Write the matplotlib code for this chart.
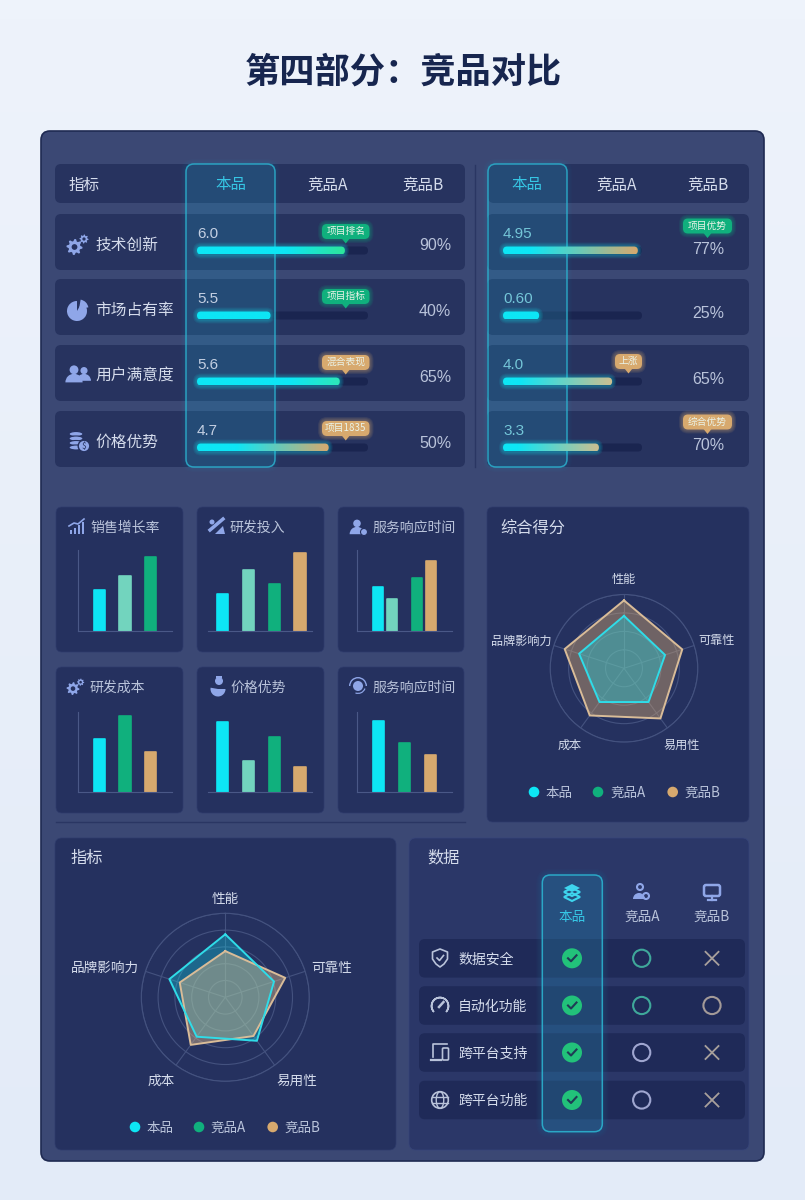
import numpy as np
import matplotlib
matplotlib.use("Agg")
import matplotlib.pyplot as plt
from matplotlib.patches import FancyBboxPatch, Circle, Wedge, Ellipse, Rectangle, Polygon
from matplotlib.colors import to_rgb

plt.rcParams['font.family'] = ['Noto Sans CJK SC', 'DejaVu Sans']

# Data
products = ["本品", "竞品A", "竞品B"]
metric_names = ["技术创新", "市场占有率", "用户满意度", "价格优势"]

left_values = ["6.0", "5.5", "5.6", "4.7"]
left_fill = [0.865, 0.43, 0.835, 0.77]
left_percent = ["90%", "40%", "65%", "50%"]
left_tags = ["项目排名", "项目指标", "混合表现", "项目1835"]

right_values = ["4.95", "0.60", "4.0", "3.3"]
right_fill = [0.97, 0.26, 0.785, 0.69]
right_percent = ["77%", "25%", "65%", "70%"]
right_tags = ["项目优势", "", "上涨", "综合优势"]

mini_titles = ["销售增长率", "研发投入", "服务响应时间", "研发成本", "价格优势", "服务响应时间"]
sales_growth = [51, 68, 91]
rd_input = [46, 75, 58, 96]
service_time_a = [54, 39, 65, 86]
rd_cost = [66, 95, 50]
price_edge = [87, 39, 69, 32]
service_time_b = [89, 61, 47]

radar_axes = ["性能", "可靠性", "易用性", "成本", "品牌影响力"]
score_own = [0.71, 0.585, 0.565, 0.565, 0.64]
score_b = [0.92, 0.83, 0.84, 0.79, 0.845]
metric_own = [0.75, 0.61, 0.64, 0.58, 0.70]
metric_b = [0.55, 0.75, 0.57, 0.70, 0.57]

feature_names = ["数据安全", "自动化功能", "跨平台支持", "跨平台功能"]
status_own = ["yes", "yes", "yes", "yes"]
status_a = ["ring_green", "ring_green", "ring_lilac", "ring_lilac"]
status_b = ["no", "ring_tan", "no", "no"]

# Colours
CYAN = "#0DE6F5"
MINT = "#72D4BE"
GREEN = "#10B07D"
TAN = "#D7A96E"
PANEL = "#3B4874"
CARD = "#25315F"
ROW = "#27335F"
ICON = "#8FA6E8"
TEXT = "#D5DCEC"
SOFT = "#B9C3DA"
NUM_FONT = ["Liberation Sans", "DejaVu Sans"]

W, H = 805, 1200
fig = plt.figure(figsize=(W / 100, H / 100), dpi=100)
ax = fig.add_axes([0, 0, 1, 1])
ax.axis("off")


def box(x0, y0, x1, y1, r=6, fc=CARD, ec="none", lw=0, alpha=None, z=2):
    p = FancyBboxPatch((x0, y0), x1 - x0, y1 - y0, boxstyle=f"round,pad=0,rounding_size={r}",
                       fc=fc, ec=ec, lw=lw, alpha=alpha, zorder=z)
    ax.add_patch(p)
    return p


def glow(x0, y0, x1, y1, r, color, size=6, alpha=0.25, z=2):
    for i in range(size):
        pad = size - i
        box(x0 - pad, y0 - pad, x1 + pad, y1 + pad, r + pad, fc=color, alpha=alpha / size, z=z)


def txt(x, y, s, size=10, color=TEXT, ha="left", z=8, **kw):
    ax.text(x, y + 1, s, fontsize=size, color=color, ha=ha, va="center", zorder=z, **kw)


def px_axes(x0, y0, x1, y1, **kw):
    return fig.add_axes([x0 / W, 1 - y1 / H, (x1 - x0) / W, (y1 - y0) / H], **kw)


def gradient_bar(x0, x1, yc, h, end_color, hold):
    t = np.linspace(0, 1, 256)
    mix = np.clip((t - hold) / (1 - hold), 0, 1)[:, None]
    arr = (np.array(to_rgb(CYAN)) * (1 - mix) + np.array(to_rgb(end_color)) * mix)[None, :, :]
    glow(x0, yc - h / 2, x1, yc + h / 2, h / 2, CYAN, size=4, alpha=0.35, z=5)
    im = ax.imshow(arr, extent=(x0, x1, yc + h / 2, yc - h / 2), aspect="auto", zorder=6)
    clip = FancyBboxPatch((x0, yc - h / 2), x1 - x0, h, boxstyle=f"round,pad=0,rounding_size={h / 2}")
    clip.set_transform(ax.transData)
    im.set_clip_path(clip)


def tag(x0, x1, yc, label, color, size=7):
    glow(x0, yc - 7.5, x1, yc + 7.5, 5, color, size=4, alpha=0.4, z=6)
    box(x0, yc - 7.5, x1, yc + 7.5, 5, fc=color, z=7)
    xm = (x0 + x1) / 2
    ax.add_patch(Polygon([(xm - 4, yc + 7), (xm + 4, yc + 7), (xm, yc + 12)], fc=color, zorder=7))
    txt(xm, yc - 1.5, label, size, "#EAF3E8", ha="center")


# simple icons, drawn around a centre point
def gear(x, y, r, c=ICON, hole=CARD):
    a = np.linspace(0, 2 * np.pi, 32, endpoint=False)
    rad = np.where(np.arange(32) % 4 < 2, r, r * 0.74)
    ax.add_patch(Polygon(np.column_stack((x + rad * np.cos(a), y + rad * np.sin(a))), fc=c, zorder=8))
    ax.add_patch(Circle((x, y), r * 0.36, fc=hole, zorder=9))


def icon_gears(x, y, s=1.0):
    gear(x - 2.5 * s, y + 2 * s, 8 * s)
    gear(x + 7 * s, y - 6 * s, 4.5 * s)


def icon_pie(x, y):
    ax.add_patch(Wedge((x - 1, y + 1), 10, -60, 270, fc=ICON, zorder=8))
    ax.add_patch(Wedge((x + 1, y - 1), 9.5, -80, -10, fc=ICON, zorder=8))


def icon_person(x, y, s=1.0, c=ICON):
    ax.add_patch(Circle((x, y - 4 * s), 4.2 * s, fc=c, zorder=8))
    ax.add_patch(Wedge((x, y + 8 * s), 8.2 * s, 180, 360, fc=c, zorder=8))


def icon_coins(x, y):
    for dy in (-7, -2.5, 2, 6.5):
        ax.add_patch(Ellipse((x - 2, y + dy), 14, 5, fc=ICON, ec=CARD, lw=0.8, zorder=8))
    ax.add_patch(Circle((x + 6, y + 5), 5.8, fc=ICON, ec=CARD, lw=1, zorder=9))
    txt(x + 6, y + 4, "$", 6, CARD, ha="center", z=10)


def icon_growth(x, y):
    for dx, hh in zip((-6, -2, 2, 6), (4, 6, 9, 12)):
        ax.add_patch(Rectangle((x + dx - 1.2, y + 7 - hh), 2.4, hh, fc=ICON, zorder=8))
    ax.plot([x - 8, x - 3, x + 1, x + 7], [y - 1, y - 4, y - 3, y - 8], color=ICON, lw=1.2, zorder=8)


def icon_percent(x, y):
    ax.plot([x - 7, x + 6], [y + 3, y - 8], color=ICON, lw=2.5, zorder=8)
    ax.add_patch(Circle((x - 5, y - 5), 2.5, fc=ICON, zorder=8))
    ax.add_patch(Polygon([(x - 2, y + 7), (x + 6, y - 1), (x + 8, y + 7)], fc=ICON, zorder=8))


def icon_hand_coin(x, y):
    ax.add_patch(Circle((x + 2, y - 5), 4, fc=ICON, zorder=8))
    ax.add_patch(Wedge((x + 1, y + 3), 7.5, 0, 190, fc=ICON, zorder=8))
    ax.add_patch(Rectangle((x - 1, y - 10), 6, 2, fc=ICON, zorder=8))


def icon_headset(x, y):
    ax.add_patch(Circle((x, y), 5, fc=ICON, zorder=8))
    ax.add_patch(Wedge((x, y), 9, 180, 360, width=1.4, fc=ICON, zorder=8))
    ax.add_patch(Wedge((x, y), 8, 20, 110, width=1.2, fc=ICON, zorder=8))


def icon_layers(x, y):
    c = "#3ED5EE"
    for dy in (5, 0):
        ax.add_patch(Polygon([(x - 8, y + dy), (x, y + dy + 4), (x + 8, y + dy), (x, y + dy - 4)],
                             fc="none", ec=c, lw=1.5, zorder=8))
    ax.add_patch(Polygon([(x - 8, y - 4), (x, y), (x + 8, y - 4), (x, y - 8)], fc=c, zorder=9))


def icon_nodes(x, y):
    ax.add_patch(Circle((x - 1, y - 6), 3, fc="none", ec=ICON, lw=1.5, zorder=8))
    ax.add_patch(Wedge((x - 2, y + 6), 6, 180, 360, fc=ICON, zorder=8))
    ax.add_patch(Circle((x + 5, y + 3), 3, fc="none", ec=ICON, lw=1.5, zorder=8))


def icon_monitor(x, y):
    box(x - 8, y - 7, x + 8, y + 4, 2, fc="none", ec=ICON, lw=1.8, z=8)
    ax.plot([x - 4, x + 4], [y + 7.5, y + 7.5], color=ICON, lw=1.6, zorder=8)
    ax.plot([x, x], [y + 4, y + 7.5], color=ICON, lw=1.6, zorder=8)


def icon_shield(x, y):
    pts = [(x, y - 9), (x + 7.5, y - 6), (x + 7.5, y + 1), (x + 4, y + 6), (x, y + 9), (x - 4, y + 6),
           (x - 7.5, y + 1), (x - 7.5, y - 6)]
    ax.add_patch(Polygon(pts, fc="none", ec=SOFT, lw=1.2, joinstyle="round", zorder=8))
    ax.plot([x - 3, x - 0.5, x + 3.5], [y, y + 2.5, y - 2.5], color=SOFT, lw=1.2, zorder=8)


def icon_gauge(x, y):
    ax.add_patch(Wedge((x, y + 1), 8.5, 140, 400, width=0.1, ec=SOFT, fc="none", lw=1.2, zorder=8))
    ax.plot([x - 1, x + 3.5], [y + 2, y - 3], color=SOFT, lw=1.8, zorder=8)


def icon_devices(x, y):
    ax.plot([x - 7, x - 7, x + 7], [y + 5, y - 8, y - 8], color=SOFT, lw=1.2, zorder=8)
    ax.plot([x - 9, x + 1], [y + 7.5, y + 7.5], color=SOFT, lw=1.6, zorder=8)
    box(x + 2.5, y - 4, x + 8.5, y + 8, 1, fc="none", ec=SOFT, lw=1.2, z=8)


def icon_globe(x, y):
    ax.add_patch(Circle((x, y), 8.3, fc="none", ec=SOFT, lw=1.2, zorder=8))
    ax.add_patch(Ellipse((x, y), 7.5, 16.6, fc="none", ec=SOFT, lw=1, zorder=8))
    for dy in (-3.2, 3.2):
        ax.plot([x - 7.6, x + 7.6], [y + dy, y + dy], color=SOFT, lw=1, zorder=8)


# page background and main panel
bg = np.linspace(0, 1, 64)[:, None, None] * (np.array(to_rgb("#E3EBF8")) - np.array(to_rgb("#EEF3FB"))) + np.array(to_rgb("#EEF3FB"))
ax.imshow(bg, extent=(0, W, H, 0), aspect="auto", zorder=0)
box(41, 131, 764, 1161, 9, fc=PANEL, ec="#1F2A52", lw=1.2, z=1)
txt(W / 2 + 0.5, 71, "第四部分：竞品对比", 25.4, "#17264F", ha="center", fontweight="bold")

# top comparison table
row_tops = [214, 279, 345, 411]
row_h = 56
box(55, 164, 465, 203, 6, fc=ROW)
box(488, 164, 749, 203, 6, fc=ROW)
ax.plot([475, 475], [165, 467], color="#2A3663", lw=1, zorder=2)
txt(68, 184, "指标", 11.2)
for xc, name in zip((231, 328, 423), products):
    txt(xc, 184, name, 11.2, "#36C6E4" if name == "本品" else TEXT, ha="center")
for xc, name in zip((527, 617, 708), products):
    txt(xc, 184, name, 11.2, "#36C6E4" if name == "本品" else TEXT, ha="center")

left_end = ["#2EE59A", CYAN, "#2EE8B8", TAN]
left_hold = [0.6, 0.0, 0.65, 0.3]
left_tag_colors = [GREEN, GREEN, TAN, TAN]
right_end = [TAN, CYAN, "#CDBE90", "#CDBE90"]
right_hold = [0.2, 0.0, 0.15, 0.15]
right_tag_colors = [GREEN, GREEN, TAN, TAN]
right_tag_y = [226, 0, 361.5, 422]

for i, top in enumerate(row_tops):
    box(55, top, 465, top + row_h, 6, fc=ROW)
    box(487, top, 749, top + row_h, 6, fc=ROW)
    txt(95, top + 30, metric_names[i], 11.3)

    # left block
    txt(197, top + 19, left_values[i], 11, "#C3CFE2", z=7, family=NUM_FONT)
    box(197, top + 32.5, 368, top + 40.5, 4, fc="#1A2550", z=3)
    gradient_bar(197, 197 + left_fill[i] * 171, top + 36.5, 8, left_end[i], left_hold[i])
    tag(322, 369.5, top + 17.5, left_tags[i], left_tag_colors[i])
    txt(451, top + 31, left_percent[i], 11.5, SOFT, ha="right", family=NUM_FONT)

    # right block
    txt(503, top + 19, right_values[i], 11, "#74C6D8", z=7, family=NUM_FONT)
    box(503, top + 32.5, 642, top + 40.5, 4, fc="#1A2550", z=3)
    gradient_bar(503, 503 + right_fill[i] * 139, top + 36.5, 8, right_end[i], right_hold[i])
    if right_tags[i]:
        if len(right_tags[i]) > 2:
            tag(683, 732, right_tag_y[i], right_tags[i], right_tag_colors[i])
        else:
            tag(615, 642, right_tag_y[i], right_tags[i], right_tag_colors[i], size=7)
    txt(708, top + 34, right_percent[i], 11.5, SOFT, ha="center", family=NUM_FONT)

icon_gears(77, 245)
icon_pie(78, 310)
icon_person(74, 374, 1.05)
icon_person(84, 374, 0.85)
icon_coins(78, 441)

# glass highlight columns
for x0, x1 in ((186, 275), (488, 567)):
    glow(x0, 164, x1, 467, 8, "#22C8E8", size=5, alpha=0.1, z=3)
    box(x0, 164, x1, 467, 8, fc="#2C7FA8", alpha=0.22, z=4)
    box(x0, 164, x1, 467, 8, fc="none", ec="#2CB8D4", lw=1.1, alpha=0.8, z=4)

# small bar chart cards
ax.plot([56, 465], [822, 822], color="#2A3663", lw=1, zorder=2)
mini_cards = [(56, 507, 183, 652), (197, 507, 324, 652), (338, 507, 464, 652),
              (56, 667, 183, 813), (197, 667, 324, 813), (338, 667, 464, 813)]
mini_title_x = [90, 230, 372, 90, 230, 372]
for (x0, y0, x1, y1), name, tx in zip(mini_cards, mini_titles, mini_title_x):
    box(x0, y0, x1, y1, 6, fc=CARD, ec="#2E3B6C", lw=0.5)
    txt(tx, y0 + 19.5, name, 10, SOFT)
icon_growth(77, 527)
icon_percent(217, 527)
icon_person(357, 527, 0.9)
ax.add_patch(Circle((364, 532), 3.5, fc=ICON, ec=CARD, lw=0.8, zorder=9))
icon_gears(75, 687, 0.8)
icon_hand_coin(217, 686)
icon_headset(358, 686)

mini_charts = [
    (sales_growth, [CYAN, MINT, GREEN], [0, 1, 2], (78, 550, 172, 631), (-0.84, 2.83), 0.44, True),
    (rd_input, [CYAN, MINT, GREEN, TAN], [0, 1, 2, 3], (208, 550, 312, 631), (-0.576, 3.47), 0.44, False),
    (service_time_a, [CYAN, MINT, GREEN, TAN], [0, 1, 2.75, 3.75], (357, 550, 452, 631), (-1.5, 5.24), 0.74, True),
    (rd_cost, [CYAN, GREEN, TAN], [0, 1, 2], (78, 712, 172, 792.3), (-0.84, 2.83), 0.44, True),
    (price_edge, [CYAN, MINT, GREEN, TAN], [0, 1, 2, 3], (208, 712, 312, 792.3), (-0.576, 3.47), 0.44, False),
    (service_time_b, [CYAN, GREEN, TAN], [0, 1, 2], (357, 712, 452, 792.3), (-0.83, 2.82), 0.43, True),
]
for values, colors, pos, rect, xlim, width, show_left in mini_charts:
    m = px_axes(rect[0], rect[1], rect[2], rect[3])
    m.patch.set_alpha(0)
    bars = m.bar(pos, values, width=width, color=colors, edgecolor=colors, linewidth=1.2)
    for b in bars:
        b.set_joinstyle("round")
    m.set_xlim(*xlim)
    m.set_ylim(0, 100)
    m.set_xticks([])
    m.set_yticks([])
    for side in ("top", "right"):
        m.spines[side].set_visible(False)
    m.spines["left"].set_visible(show_left)
    m.spines["left"].set_color("#4A5887")
    m.spines["bottom"].set_color("#4A5887")
    m.spines["left"].set_linewidth(0.8)
    m.spines["bottom"].set_linewidth(0.8)


# radar cards
def radar(cx, cy, radius, own, other, rings, line_w, own_on_top):
    r_ax = px_axes(cx - radius, cy - radius, cx + radius, cy + radius, projection="polar")
    r_ax.patch.set_alpha(0)
    r_ax.set_theta_zero_location("N")
    r_ax.set_theta_direction(-1)
    angles = np.arange(5) * 2 * np.pi / 5
    r_ax.set_xticks(angles)
    r_ax.set_xticklabels([])
    r_ax.set_yticks(rings)
    r_ax.set_yticklabels([])
    r_ax.set_ylim(0, 1)
    r_ax.grid(color="#44527F", lw=0.8)
    r_ax.tick_params(length=0)
    r_ax.spines["polar"].set_color("#44527F")
    r_ax.spines["polar"].set_linewidth(0.8)
    t = np.append(angles, angles[0])
    if own_on_top:
        r_ax.fill(t, other + other[:1], color=TAN, alpha=0.42, lw=0, zorder=3)
        r_ax.fill(t, own + own[:1], color=CYAN, alpha=0.32, lw=0, zorder=4)
    else:
        r_ax.fill(t, own + own[:1], color=CYAN, alpha=0.3, lw=0, zorder=3)
        r_ax.fill(t, other + other[:1], color="#E3BC8A", alpha=0.42, lw=0, zorder=4)
    r_ax.plot(t, other + other[:1], color="#D9BC98", lw=line_w, zorder=5)
    r_ax.plot(t, own + own[:1], color="#2FDCE8", lw=line_w, zorder=6)


def legend(circle_x, text_x, y):
    for cx, tx, name, col in zip(circle_x, text_x, products, (CYAN, GREEN, TAN)):
        ax.add_patch(Circle((cx, y), 5.3, fc=col, zorder=8))
        txt(tx, y, name, 9.7, SOFT)


box(487, 507, 749, 822, 6, fc=CARD, ec="#2E3B6C", lw=0.5)
txt(500, 527, "综合得分", 11.7)
radar(624, 668.3, 73.8, score_own, score_b, [0.25, 0.5, 0.75, 1.0], 1.4, True)
big_label_pos = [(624, 578), (717, 639.5), (682, 744), (570, 744.5), (521.5, 640)]
for (x, y), name in zip(big_label_pos, radar_axes):
    txt(x, y, name, 8.7, ha="center")
legend((534, 598, 672.7), (545.7, 610, 684), 792)

box(55, 838, 396, 1150, 7, fc=CARD, ec="#2E3B6C", lw=0.5)
txt(70, 857, "指标", 11.7)
radar(225.3, 997.3, 84, metric_own, metric_b, [0.2, 0.4, 0.6, 0.8, 1.0], 1.4, False)
small_label_pos = [(225, 898), (332, 967), (297, 1080), (161.5, 1080), (105, 967)]
for (x, y), name in zip(small_label_pos, radar_axes):
    txt(x, y, name, 9.8, ha="center")
legend((135, 199, 272.7), (146, 210.7, 284), 1127)

# feature table
box(409, 838, 749, 1150, 7, fc="#2B3768", ec="#36447A", lw=0.5)
txt(427, 857, "数据", 11.7)
feature_y = [958.3, 1005.5, 1052.5, 1100]
col_x = [572, 641.7, 712]
for y, name in zip(feature_y, feature_names):
    box(419, y - 19.3, 745, y + 19.3, 6, fc="#1F2A58", z=3)
    txt(458, y, name, 10)
icon_shield(440, 958)
icon_gauge(440, 1005)
icon_devices(440, 1052)
icon_globe(440, 1100)
for xc, name in zip(col_x, products):
    txt(xc, 915.7, name, 9.8, "#36C6E4" if name == "本品" else SOFT, ha="center")
icon_layers(572, 892)
icon_nodes(641, 893)
icon_monitor(712, 892)

glow(542.3, 875, 602.3, 1131.7, 8, "#22C8E8", size=6, alpha=0.12, z=4)
box(542.3, 875, 602.3, 1131.7, 8, fc="#2C7FA8", alpha=0.22, z=4)
box(542.3, 875, 602.3, 1131.7, 8, fc="none", ec="#2CB8D4", lw=1.1, alpha=0.85, z=5)

ring_colors = {"ring_green": "#3FA89A", "ring_lilac": "#9FA6D0", "ring_tan": "#A39A98"}
for xc, statuses in zip(col_x, (status_own, status_a, status_b)):
    for y, state in zip(feature_y, statuses):
        if state == "yes":
            ax.add_patch(Circle((xc, y), 10, fc="#22C27A", zorder=8))
            ax.plot([xc - 4, xc - 1, xc + 4.5], [y, y + 3, y - 3], color="#1F3B55", lw=1.5, zorder=9)
        elif state == "no":
            ax.plot([xc - 6.5, xc + 6.5], [y - 6.5, y + 6.5], color="#A8A09C", lw=1.3, zorder=8)
            ax.plot([xc - 6.5, xc + 6.5], [y + 6.5, y - 6.5], color="#A8A09C", lw=1.3, zorder=8)
        else:
            ax.add_patch(Circle((xc, y), 8.6, fc="none", ec=ring_colors[state], lw=1.5, zorder=8))

ax.set_xlim(0, W)
ax.set_ylim(H, 0)

fig.savefig("out.png", dpi=100)
